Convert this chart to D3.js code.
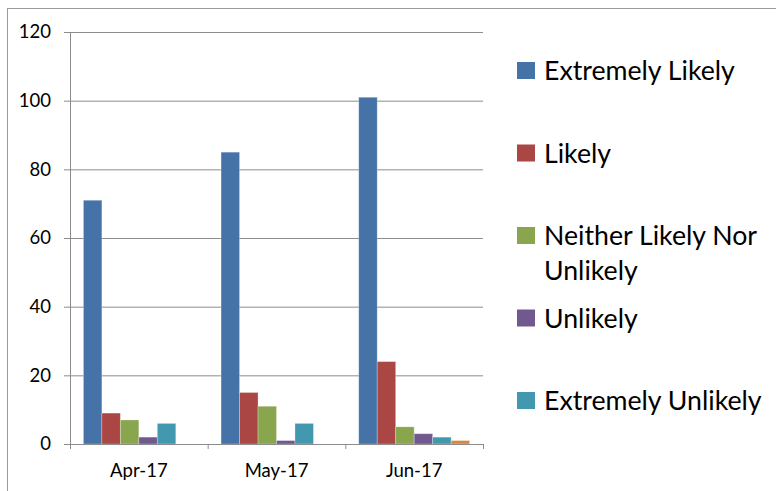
<!DOCTYPE html>
<html>
<head>
<meta charset="utf-8">
<script src="https://cdn.jsdelivr.net/npm/d3@7"></script>
<style>
  body { margin: 0; background: #fff; }
  svg text { font-family: Lato, "Liberation Sans", sans-serif; fill: #000; }
</style>
</head>
<body>
<div id="chart"></div>
<script>
// Data
var categories = ["Apr-17", "May-17", "Jun-17"];
var seriesNames = ["Extremely Likely", "Likely", "Neither Likely Nor Unlikely", "Unlikely", "Extremely Unlikely", "Series6"];
var extremelyLikely = [71, 85, 101];
var likely = [9, 15, 24];
var neitherLikelyNorUnlikely = [7, 11, 5];
var unlikely = [2, 1, 3];
var extremelyUnlikely = [6, 6, 2];
var series6 = [0, 0, 1];
var yTicks = [0, 20, 40, 60, 80, 100, 120];
// legend only lists the first five series
var legendLabels = [["Extremely Likely"], ["Likely"], ["Neither Likely Nor", "Unlikely"], ["Unlikely"], ["Extremely Unlikely"]];

var colors = ["#4572A7", "#AA4643", "#89A54E", "#71588F", "#4198AF", "#DB843D"];
var allValues = [extremelyLikely, likely, neitherLikelyNorUnlikely, unlikely, extremelyUnlikely, series6];

// SVG container
var svgWidth = 776;
var svgHeight = 491;
var margin = { top: 32, left: 70 };
var chartWidth = 413;
var chartHeight = 412;

var svg = d3.select("#chart").append("svg")
  .attr("width", svgWidth)
  .attr("height", svgHeight);

// outer chart border
svg.append("rect")
  .attr("x", 7.5)
  .attr("y", 8.5)
  .attr("width", svgWidth + 20)
  .attr("height", svgHeight + 20)
  .attr("fill", "none")
  .attr("stroke", "#9a9a9a");

var chartGroup = svg.append("g")
  .attr("transform", `translate(${margin.left}, ${margin.top})`);

// scales
var x0 = d3.scaleBand().domain(categories).range([0, chartWidth]).padding(0);
var x1 = d3.scaleBand().domain(seriesNames).range([0, x0.bandwidth()])
  .paddingInner(0).paddingOuter(0.725);
var y = d3.scaleLinear().domain([0, 120]).range([chartHeight, 0]);

// gridlines
chartGroup.append("g")
  .attr("class", "grid")
  .call(d3.axisLeft(y).tickValues(yTicks.slice(1)).tickSize(-chartWidth).tickFormat(""))
  .call(g => g.select(".domain").remove())
  .selectAll("line").attr("stroke", "#8c8c8c");

// bars
var rows = categories.map(function(c, i) {
  return { cat: c, vals: seriesNames.map(function(s, j) { return { name: s, value: allValues[j][i], color: colors[j] }; }) };
});

chartGroup.selectAll(".cat")
  .data(rows)
  .enter()
  .append("g")
  .attr("transform", d => `translate(${x0(d.cat)},0)`)
  .selectAll("rect")
  .data(d => d.vals)
  .enter()
  .append("rect")
  .attr("x", d => x1(d.name))
  .attr("width", x1.bandwidth())
  .attr("y", d => y(d.value))
  .attr("height", d => chartHeight - y(d.value))
  .attr("fill", d => d.color)
  .attr("stroke", "#ffffff")
  .attr("stroke-opacity", 0.35)
  .attr("stroke-width", 0.8);

// y axis
var yAxis = chartGroup.append("g")
  .call(d3.axisLeft(y).tickValues(yTicks).tickSize(6).tickPadding(13));
yAxis.select(".domain").attr("stroke", "#8c8c8c");
yAxis.selectAll("line").attr("stroke", "#8c8c8c");
yAxis.selectAll("text").style("font-size", "18.5px");

// x axis, ticks on category boundaries
var xAxis = chartGroup.append("g")
  .attr("transform", `translate(0, ${chartHeight})`)
  .call(d3.axisBottom(x0).tickSize(0).tickPadding(20));
xAxis.select(".domain").attr("stroke", "#8c8c8c");
xAxis.selectAll("text").style("font-size", "18.5px");
xAxis.selectAll(".bound")
  .data(categories.concat(["end"]))
  .enter()
  .append("line")
  .attr("x1", (d, i) => i * x0.step() + 0.5)
  .attr("x2", (d, i) => i * x0.step() + 0.5)
  .attr("y1", 0)
  .attr("y2", 5)
  .attr("stroke", "#8c8c8c");

// legend
var legend = svg.append("g").attr("transform", "translate(517, 0)");
var legendItems = legend.selectAll(".item")
  .data(legendLabels)
  .enter()
  .append("g")
  .attr("transform", (d, i) => `translate(0, ${62 + i * 82.5})`);

legendItems.append("rect")
  .attr("width", 18)
  .attr("height", 17)
  .attr("fill", (d, i) => colors[i]);

legendItems.append("text")
  .attr("x", 27)
  .attr("y", 18)
  .style("font-size", "26.7px")
  .selectAll("tspan")
  .data(d => d)
  .enter()
  .append("tspan")
  .attr("x", 27)
  .attr("dy", (d, i) => i === 0 ? 0 : 35)
  .text(d => d);
</script>
</body>
</html>
